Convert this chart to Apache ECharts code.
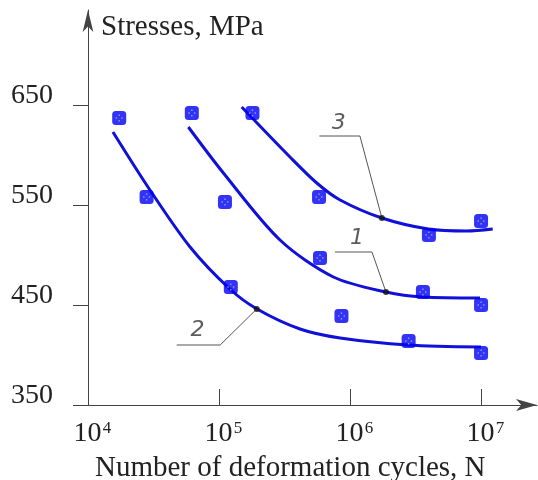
<!DOCTYPE html>
<html>
<head>
<meta charset="utf-8">
<script src="https://cdn.jsdelivr.net/npm/echarts@6/dist/echarts.min.js"></script>
<style>
  html, body { margin: 0; padding: 0; background: #fff; }
  #chart { width: 538px; height: 480px; }
</style>
</head>
<body>
<div id="chart"></div>
<script>
// Fatigue (S-N) curves: stress amplitude vs number of cycles, log scale on N.
const cycleTicks = [1e4, 1e5, 1e6, 1e7];
const stressTicks = [350, 450, 550, 650];

// Test results [cycles N, stress MPa]
const tests1 = [[6.2e4, 642], [1.11e5, 553], [5.9e5, 497], [3.6e6, 463], [1.0e7, 450]];
const tests2 = [[1.73e4, 637], [2.8e4, 558], [1.23e5, 468], [8.6e5, 439], [2.8e6, 414], [1.0e7, 402]];
const tests3 = [[1.8e5, 642], [5.8e5, 558], [4.0e6, 520], [1.0e7, 534]];

// Fitted curves [cycles N, stress MPa]
const curve1 = [[5.83e4, 628], [1.08e5, 582], [2.92e5, 515], [7.46e5, 478], [1.88e6, 463], [3.59e6, 458], [9.82e6, 457]];
const curve2 = [[1.55e4, 623], [2.97e4, 565], [6.01e4, 508], [1.21e5, 466], [1.95e5, 446], [4.15e5, 426], [8.4e5, 417], [2.77e6, 410], [1.0e7, 408]];
const curve3 = [[1.49e5, 648], [3.48e5, 598], [5.57e5, 572], [8.4e5, 555], [1.75e6, 537], [3.96e6, 526], [7.78e6, 524], [1.227e7, 526]];

// Callout leaders: point on curve -> elbow -> shelf end
const leader1 = [[1.88e6, 463], [1.47e6, 503], [7.67e5, 503]];
const leader2 = [[1.94e5, 446], [1.02e5, 410], [4.75e4, 410]];
const leader3 = [[1.75e6, 537], [1.19e6, 619], [5.83e5, 619]];
const curveNumbers = [[1.13e6, 517, '1'], [6.86e4, 425, '2'], [8.2e5, 632, '3']];

const SERIF = '"Liberation Serif", "Times New Roman", serif';
const BLUE_LINE = '#1010d8';
const BLUE_MARK = '#0000f2';
const AXIS = '#444';

const chart = echarts.init(document.getElementById('chart'), null, { renderer: 'canvas' });

function curveSeries(data) {
  return {
    type: 'line', data: data, smooth: 0.3,
    symbol: 'none', lineStyle: { color: BLUE_LINE, width: 3 }, z: 3
  };
}
function leaderSeries(data) {
  return {
    type: 'line', data: data, symbol: 'none',
    lineStyle: { color: '#555', width: 1 }, z: 4
  };
}
function testSeries(data) {
  return [{
    type: 'scatter', data: data, symbol: 'roundRect', symbolSize: 14,
    itemStyle: { color: BLUE_MARK }, z: 5
  }, {
    type: 'scatter', data: data, symbolSize: 7, silent: true,
    symbol: 'path://M4,0h2v2h-2z M0,4h2v2h-2z M8,4h2v2h-2z M4,8h2v2h-2z',
    itemStyle: { color: '#a8b0ff' }, z: 6
  }];
}

const option = {
  animation: false,
  backgroundColor: '#fff',
  grid: { left: 88, right: 1, top: 10, bottom: 75, containLabel: false },
  xAxis: {
    type: 'log', logBase: 10, min: 1e4, max: 2.673e7,
    axisLine: { show: true, lineStyle: { color: AXIS, width: 1 }, symbol: ['none', 'arrow'], symbolSize: [9, 21] },
    axisTick: { show: true, inside: true, length: 16, customValues: cycleTicks, lineStyle: { color: AXIS } },
    axisLabel: {
      customValues: cycleTicks, margin: 15, color: '#222',
      formatter: v => '{s|}{b|10}{e|' + Math.round(Math.log10(v)) + '}',
      rich: {
        s: { width: 9 },
        b: { fontFamily: SERIF, fontSize: 28, lineHeight: 28, color: '#222' },
        e: { fontFamily: SERIF, fontSize: 17, lineHeight: 14, verticalAlign: 'top', width: 9, color: '#222', padding: [0, 0, 0, 1] }
      }
    },
    splitLine: { show: false }
  },
  yAxis: {
    type: 'value', min: 350, max: 745,
    axisLine: { show: true, lineStyle: { color: AXIS, width: 1 }, symbol: ['none', 'arrow'], symbolSize: [8, 22] },
    axisTick: { show: true, inside: false, length: 15, customValues: stressTicks, lineStyle: { color: AXIS } },
    axisLabel: {
      customValues: stressTicks, margin: 35, color: '#222',
      fontFamily: SERIF, fontSize: 28, lineHeight: 19, verticalAlign: 'bottom'
    },
    splitLine: { show: false }
  },
  title: [{
    text: 'Stresses, MPa', left: 96, top: 8,
    textStyle: { fontFamily: SERIF, fontSize: 29, fontWeight: 'normal', color: '#222' }
  }, {
    text: 'Number of deformation cycles, N', left: 90, top: 449,
    textStyle: { fontFamily: SERIF, fontSize: 29, fontWeight: 'normal', color: '#222' }
  }],
  series: [
    curveSeries(curve1), curveSeries(curve2), curveSeries(curve3),
    leaderSeries(leader1), leaderSeries(leader2), leaderSeries(leader3),
    {
      type: 'scatter', symbol: 'circle', symbolSize: 6, z: 7,
      itemStyle: { color: '#111' },
      data: [leader1[0], leader2[0], leader3[0]]
    },
    ...testSeries(tests1), ...testSeries(tests2), ...testSeries(tests3),
    {
      type: 'scatter', symbolSize: 0, z: 8,
      data: curveNumbers.map(d => ({ value: [d[0], d[1]], name: d[2] })),
      label: {
        show: true, position: 'inside', formatter: p => p.name,
        fontFamily: '"DejaVu Sans", sans-serif', fontStyle: 'italic', fontWeight: 'lighter',
        fontSize: 22, color: '#333'
      }
    }
  ]
};

chart.setOption(option);
</script>
</body>
</html>
